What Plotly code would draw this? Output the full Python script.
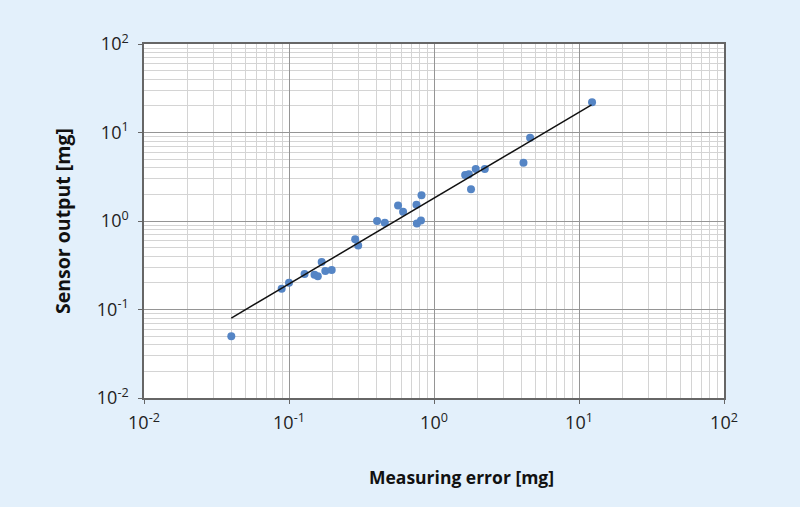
import plotly.graph_objects as go

# Data
meas_error = [0.040, 0.089, 0.100, 0.128, 0.150, 0.158, 0.168, 0.178, 0.197, 0.286,
              0.300, 0.405, 0.458, 0.565, 0.612, 0.757, 0.762, 0.813, 0.820, 1.64,
              1.74, 1.80, 1.94, 2.24, 4.14, 4.60, 12.3]
sensor_out = [0.050, 0.172, 0.201, 0.252, 0.247, 0.237, 0.344, 0.272, 0.279, 0.624,
              0.530, 1.00, 0.953, 1.50, 1.27, 1.53, 0.938, 1.01, 1.95, 3.31,
              3.37, 2.29, 3.87, 3.87, 4.56, 8.73, 22.0]
fit_x = [0.040, 12.2]
fit_y = [0.080, 20.5]

tick_vals = [0.01, 0.1, 1, 10, 100]
tick_text = ["10<sup>-2</sup>", "10<sup>-1</sup>", "10<sup>0</sup>", "10<sup>1</sup>", "10<sup>2</sup>"]

minor_vals = [m * d for d in (0.01, 0.1, 1, 10) for m in range(2, 10)]

fig = go.Figure()
fig.add_trace(go.Scatter(x=meas_error, y=sensor_out, mode="markers",
                         marker=dict(color="#5585c5", size=8), showlegend=False))
fig.add_trace(go.Scatter(x=fit_x, y=fit_y, mode="lines",
                         line=dict(color="#111111", width=1.5), showlegend=False))

axis_common = dict(
    type="log",
    tickvals=tick_vals,
    ticktext=tick_text,
    showgrid=True,
    gridcolor="#959595",
    gridwidth=1.2,
    showline=True,
    linecolor="#666666",
    linewidth=1.5,
    mirror=True,
    ticks="outside",
    ticklen=4,
    tickcolor="#666666",
    tickfont=dict(family="Open Sans", size=18, color="#222222"),
    zeroline=False,
    minor=dict(tickvals=minor_vals, showgrid=True, gridcolor="#d4d4d4", gridwidth=1, ticks=""),
)

fig.update_xaxes(range=[-2, 2], ticklabelstandoff=4, **axis_common)
fig.update_yaxes(range=[-2, 2], ticklabelstandoff=6, **axis_common)

fig.update_layout(
    width=800, height=507,
    margin=dict(l=144, r=76, t=44, b=109),
    paper_bgcolor="#e3f0fb",
    plot_bgcolor="#ffffff",
    annotations=[
        dict(text="<b>Measuring error [mg]</b>", xref="paper", yref="paper",
             x=(461 - 144) / 580, y=-(477 - 398) / 354, xanchor="center", yanchor="middle",
             showarrow=False, font=dict(family="Open Sans", size=17.5, color="#111111")),
        dict(text="<b>Sensor output [mg]</b>", xref="paper", yref="paper",
             x=-(144 - 62) / 580, y=0.5, xanchor="center", yanchor="middle", textangle=-90,
             showarrow=False, font=dict(family="Open Sans", size=19.5, color="#111111")),
    ],
)

fig.write_html("out.html")
